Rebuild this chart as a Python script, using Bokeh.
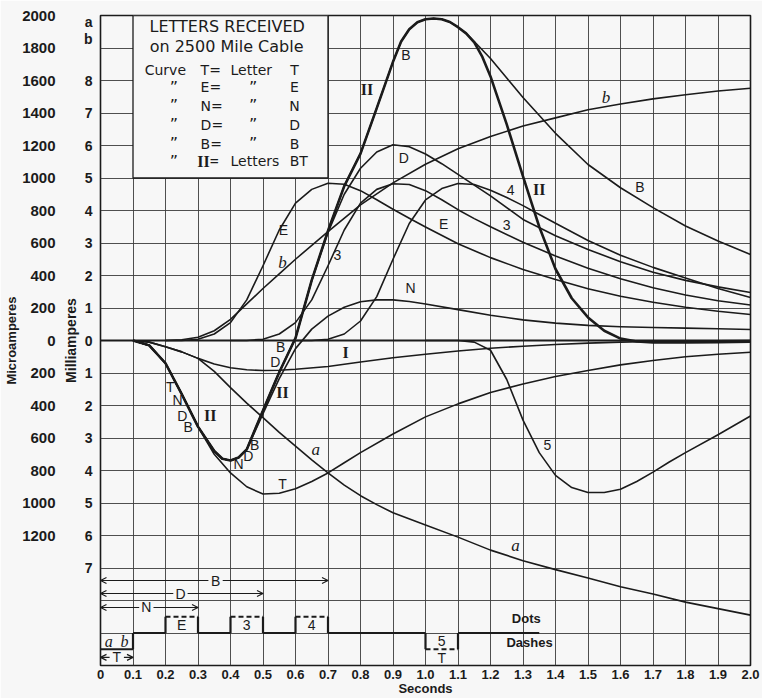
from bokeh.plotting import figure
from bokeh.models import (FixedTicker, LinearAxis, Range1d, Span, Arrow, OpenHead,
                          ColumnDataSource, CustomJSTickFormatter)
from bokeh.core.properties import value
from bokeh.embed import file_html
from bokeh.resources import INLINE

BG = "#f7f7f7"
INK = "#1b1b1b"
GRIDC = "#3c3c3c"
SANS = "Liberation Sans"
SERIF = "Liberation Serif"

# ---------------- axes / ticks ----------------
x_ticks = [0.0, 0.1, 0.2, 0.3, 0.4, 0.5, 0.6, 0.7, 0.8, 0.9, 1.0,
           1.1, 1.2, 1.3, 1.4, 1.5, 1.6, 1.7, 1.8, 1.9, 2.0]
x_tick_labels = ["0", "0.1", "0.2", "0.3", "0.4", "0.5", "0.6", "0.7", "0.8", "0.9", "1.0",
                 "1.1", "1.2", "1.3", "1.4", "1.5", "1.6", "1.7", "1.8", "1.9", "2.0"]
grid_y = [-2000, -1800, -1600, -1400, -1200, -1000, -800, -600, -400, -200, 0,
          200, 400, 600, 800, 1000, 1200, 1400, 1600, 1800, 2000]
ua_ticks = [2000, 1800, 1600, 1400, 1200, 1000, 800, 600, 400, 200, 0,
            -200, -400, -600, -800, -1000, -1200]
ua_labels = ["2000", "1800", "1600", "1400", "1200", "1000", "800", "600", "400", "200", "0",
             "200", "400", "600", "800", "1000", "1200"]
ma_ticks = [1960, 1857, 1600, 1400, 1200, 1000, 800, 600, 400, 200, 0,
            -200, -400, -600, -800, -1000, -1200, -1400]
ma_labels = ["a", "b", "8", "7", "6", "5", "4", "3", "2", "1", "0",
             "1", "2", "3", "4", "5", "6", "7"]

# ---------------- curves (seconds, microamperes) ----------------
a_x = [0.1, 0.15, 0.2, 0.25, 0.3, 0.35, 0.4, 0.45, 0.5, 0.55, 0.6, 0.65, 0.7, 0.75, 0.8, 0.85,
       0.9, 1.0, 1.1, 1.2, 1.3, 1.4, 1.5, 1.6, 1.7, 1.8, 1.9, 2.0]
a_y = [0, -10, -38, -70, -110, -190, -290, -385, -475, -565, -650, -735, -815, -890, -955, -1010,
       -1060, -1135, -1210, -1290, -1355, -1410, -1462, -1515, -1560, -1610, -1650, -1690]

b_x = [0.2, 0.25, 0.3, 0.35, 0.4, 0.45, 0.5, 0.55, 0.6, 0.7, 0.8, 0.9, 1.0, 1.1, 1.2, 1.3,
       1.4, 1.5, 1.6, 1.7, 1.8, 1.9, 2.0]
b_y = [0, 5, 20, 60, 130, 225, 320, 410, 500, 670, 835, 970, 1085, 1180, 1255, 1320,
       1370, 1420, 1455, 1487, 1512, 1535, 1552]

I_x = [0.1, 0.15, 0.2, 0.25, 0.3, 0.35, 0.4, 0.45, 0.5, 0.55, 0.6, 0.7, 0.8, 0.9, 1.0, 1.1,
       1.2, 1.3, 1.4, 1.5, 1.6, 1.7, 1.8, 1.9, 2.0]
I_y = [0, -10, -38, -70, -110, -145, -168, -180, -185, -183, -177, -160, -132, -106, -85, -65,
       -48, -35, -25, -16, -10, -6, -4, -2, 0]

T_x = [0.1, 0.15, 0.2, 0.25, 0.3, 0.35, 0.4, 0.45, 0.5, 0.55, 0.6, 0.65, 0.7, 0.75, 0.8, 0.9,
       1.0, 1.1, 1.2, 1.3, 1.4, 1.5, 1.6, 1.7, 1.8, 1.9, 2.0]
T_y = [0, -30, -140, -330, -532, -700, -815, -900, -945, -940, -912, -868, -815, -752, -690, -575,
       -470, -390, -320, -268, -222, -185, -150, -123, -100, -85, -72]

E_x = [0.2, 0.25, 0.3, 0.35, 0.4, 0.45, 0.5, 0.55, 0.6, 0.65, 0.7, 0.75, 0.8, 0.85, 0.9, 0.95,
       1.0, 1.1, 1.2, 1.3, 1.4, 1.5, 1.6, 1.7, 1.8, 1.9, 2.0]
E_y = [0, 0, 8, 40, 110, 250, 460, 680, 845, 930, 968, 962, 922, 866, 808, 752,
       698, 595, 510, 437, 375, 318, 272, 235, 205, 180, 160]

c3_x = [0.4, 0.45, 0.5, 0.55, 0.6, 0.65, 0.7, 0.75, 0.8, 0.85, 0.9, 0.95, 1.0, 1.05, 1.1, 1.15,
        1.2, 1.3, 1.4, 1.5, 1.6, 1.7, 1.8, 1.9, 2.0]
c3_y = [0, 0, 8, 40, 110, 250, 460, 680, 845, 930, 965, 960, 922, 866, 805, 750,
        700, 605, 520, 445, 380, 325, 280, 245, 218]

c4_x = [0.6, 0.65, 0.7, 0.75, 0.8, 0.85, 0.9, 0.95, 1.0, 1.05, 1.1, 1.15, 1.2, 1.25, 1.3, 1.35,
        1.4, 1.5, 1.6, 1.7, 1.8, 1.9, 2.0]
c4_y = [0, 0, 8, 40, 120, 270, 500, 720, 865, 935, 966, 960, 925, 880, 830, 775,
        722, 615, 525, 450, 385, 320, 265]

c5_x = [1.0, 1.1, 1.15, 1.2, 1.25, 1.3, 1.35, 1.4, 1.45, 1.5, 1.55, 1.6, 1.65, 1.7, 1.75, 1.8,
        1.9, 2.0]
c5_y = [0, 0, -10, -60, -240, -490, -690, -830, -905, -935, -935, -915, -868, -810, -748, -690,
        -580, -465]

N_x = [0.1, 0.15, 0.2, 0.25, 0.3, 0.35, 0.375, 0.4, 0.425, 0.45, 0.5, 0.55, 0.6, 0.65, 0.7, 0.75,
       0.8, 0.85, 0.9, 0.95, 1.0, 1.1, 1.2, 1.3, 1.4, 1.5, 1.6, 1.7, 1.8, 1.9, 2.0]
N_y = [0, -30, -140, -330, -530, -680, -728, -738, -720, -672, -450, -235, -50, 70, 150, 205,
       238, 250, 250, 240, 225, 190, 155, 127, 107, 93, 85, 80, 76, 72, 68]

D_x = [0.1, 0.15, 0.2, 0.25, 0.3, 0.35, 0.375, 0.4, 0.425, 0.45, 0.5, 0.55, 0.6, 0.65, 0.7, 0.75,
       0.8, 0.85, 0.9, 0.95, 1.0, 1.05, 1.1, 1.2, 1.3, 1.4, 1.5, 1.6, 1.7, 1.8, 1.9, 2.0]
D_y = [0, -30, -140, -330, -530, -680, -728, -738, -720, -670, -430, -195, 15, 370, 665, 900,
       1060, 1160, 1205, 1192, 1148, 1088, 1022, 890, 745, 645, 560, 485, 420, 370, 330, 295]

B_x = [0.1, 0.15, 0.2, 0.25, 0.3, 0.35, 0.375, 0.4, 0.425, 0.45, 0.5, 0.55, 0.6, 0.65, 0.7, 0.75,
       0.8, 0.85, 0.9, 0.925, 0.95, 0.975, 1.0, 1.025, 1.05, 1.075, 1.1, 1.125, 1.15, 1.2, 1.25,
       1.3, 1.4, 1.5, 1.6, 1.7, 1.8, 1.9, 2.0]
B_y = [0, -30, -140, -330, -530, -680, -728, -738, -720, -670, -430, -195, 15, 372, 675, 950,
       1150, 1430, 1715, 1840, 1915, 1958, 1977, 1982, 1977, 1960, 1928, 1890, 1840, 1735, 1615,
       1495, 1275, 1083, 940, 818, 705, 612, 529]

II_x = [0.1, 0.15, 0.2, 0.25, 0.3, 0.35, 0.375, 0.4, 0.425, 0.45, 0.5, 0.55, 0.6, 0.65, 0.7, 0.75,
        0.8, 0.85, 0.9, 0.925, 0.95, 0.975, 1.0, 1.025, 1.05, 1.075, 1.1, 1.125, 1.15, 1.175, 1.2,
        1.25, 1.3, 1.35, 1.4, 1.45, 1.5, 1.55, 1.6, 1.65, 1.7, 1.8, 1.9, 2.0]
II_y = [0, -30, -140, -330, -530, -680, -728, -738, -720, -670, -430, -195, 15, 372, 675, 950,
        1150, 1430, 1715, 1840, 1915, 1958, 1977, 1982, 1977, 1960, 1928, 1890, 1835, 1745, 1625,
        1330, 1010, 700, 440, 260, 142, 60, 12, -6, -12, -12, -10, -8]

# ---------------- curve labels ----------------
sans_lab_text = ["E", "3", "D", "B", "E", "3", "4", "B", "N", "B", "D", "5", "T",
                 "T", "N", "D", "B", "N", "D", "B"]
sans_lab_x = [0.563, 0.729, 0.933, 0.94, 1.056, 1.25, 1.262, 1.66, 0.954, 0.554, 0.538, 1.375, 0.56,
              0.215, 0.237, 0.252, 0.27, 0.425, 0.455, 0.474]
sans_lab_y = [677, 529, 1126, 1754, 714, 708, 929, 942, 326, -43, -135, -646, -886,
              -289, -369, -462, -535, -763, -708, -640]
roman_lab_text = ["II", "II", "II", "II", "I"]
roman_lab_x = [0.82, 1.35, 0.338, 0.56, 0.754]
roman_lab_y = [1545, 930, -462, -320, -74]
ital_lab_text = ["b", "b", "a", "a"]
ital_lab_x = [0.56, 1.555, 0.662, 1.277]
ital_lab_y = [480, 1495, -671, -1262]

# ---------------- legend box ----------------
legend_box = dict(left=[0.1], right=[0.7], bottom=[1000], top=[2000])
legend_title = ["LETTERS RECEIVED", "on 2500 Mile Cable"]
legend_title_y = [1932, 1809]
legend_rows_y = [1662, 1557, 1446, 1329, 1212, 1102]
legend_col1 = ["Curve", "\u201d", "\u201d", "\u201d", "\u201d", "\u201d"]
legend_col2 = ["T=", "E=", "N=", "D=", "B=", "II="]
legend_col3 = ["Letter", "\u201d", "\u201d", "\u201d", "\u201d", "Letters"]
legend_col4 = ["T", "E", "N", "D", "B", "BT"]

# ---------------- telegraph signal diagram ----------------
sig_neutral = -1800
sig_start = [0.0, 0.2, 0.4, 0.6, 1.0]
sig_stop = [0.1, 0.3, 0.5, 0.7, 1.1]
sig_level = [-1900, -1700, -1700, -1700, -1900]
sig_dashed = [False, True, True, True, True]
sig_end = 1.35
box_lab_text = ["E", "3", "4", "5", "T"]
box_lab_x = [0.25, 0.45, 0.65, 1.05, 1.05]
box_lab_y = [-1752, -1752, -1752, -1852, -1955]
ab_text = ["a", "b"]
ab_x = [0.025, 0.074]
ab_y = [-1850, -1850]
span_name = ["T", "N", "D", "B"]
span_end = [0.1, 0.3, 0.5, 0.7]
span_y = [-1950, -1643, -1557, -1477]
span_lab_x = [0.05, 0.141, 0.246, 0.354]
key_text = ["Dots", "Dashes"]
key_x = [1.31, 1.32]
key_y = [-1710, -1858]

# ---------------- figure ----------------
p = figure(width=762, height=698, x_range=Range1d(0, 2.0), y_range=Range1d(-2000, 2000),
           output_backend="svg", toolbar_location=None,
           x_axis_location=None, y_axis_location=None,
           min_border_left=100, min_border_right=12, min_border_top=15, min_border_bottom=33,
           background_fill_color=BG, border_fill_color=BG,
           outline_line_color=INK, outline_line_width=1.6)

p.xgrid.ticker = FixedTicker(ticks=x_ticks)
p.ygrid.ticker = FixedTicker(ticks=grid_y)
p.grid.grid_line_color = GRIDC
p.grid.grid_line_width = 1
p.grid.grid_line_alpha = 0.9


def fmt(ticks, labels):
    return CustomJSTickFormatter(args=dict(tv=ticks, tl=labels), code="""
        const i = tv.findIndex(t => Math.abs(t - tick) < 1e-6);
        return i >= 0 ? tl[i] : "";
    """)


def style_axis(ax):
    ax.axis_line_color = None
    ax.major_tick_line_color = None
    ax.minor_tick_line_color = None
    ax.major_tick_in = 0
    ax.major_tick_out = 0
    ax.major_label_text_font = SANS
    ax.major_label_text_font_style = "bold"
    ax.major_label_text_color = INK
    ax.axis_label_text_font = SANS
    ax.axis_label_text_font_style = "bold"
    ax.axis_label_text_color = INK


xaxis = LinearAxis(ticker=FixedTicker(ticks=x_ticks), formatter=fmt(x_ticks, x_tick_labels),
                   axis_label="Seconds")
style_axis(xaxis)
xaxis.major_label_text_font_size = "13px"
xaxis.axis_label_text_font_size = "13px"
xaxis.major_label_standoff = 4
xaxis.axis_label_standoff = -1
p.add_layout(xaxis, "below")

ma_axis = LinearAxis(ticker=FixedTicker(ticks=ma_ticks), formatter=fmt(ma_ticks, ma_labels),
                     axis_label="Milliamperes")
style_axis(ma_axis)
ma_axis.major_label_text_font_size = "14px"
ma_axis.axis_label_text_font_size = "14px"
ma_axis.major_label_standoff = 8
ma_axis.axis_label_standoff = 2
p.add_layout(ma_axis, "left")

ua_axis = LinearAxis(ticker=FixedTicker(ticks=ua_ticks), formatter=fmt(ua_ticks, ua_labels),
                     axis_label="Microamperes")
style_axis(ua_axis)
ua_axis.major_label_text_font_size = "15px"
ua_axis.axis_label_text_font_size = "13px"
ua_axis.major_label_standoff = 4
ua_axis.axis_label_standoff = 0
p.add_layout(ua_axis, "left")

# zero axis line
p.add_layout(Span(location=0, dimension="width", line_color=INK, line_width=1.8))

# legend box
p.quad(fill_color=BG, line_color=INK, line_width=1.3, **legend_box)

# curves
thin = [(a_x, a_y), (b_x, b_y), (I_x, I_y), (T_x, T_y), (E_x, E_y), (c3_x, c3_y),
        (c4_x, c4_y), (c5_x, c5_y), (N_x, N_y), (D_x, D_y), (B_x, B_y)]
for xs, ys in thin:
    p.line(xs, ys, line_color=INK, line_width=1.6, line_join="round")
p.line(II_x, II_y, line_color=INK, line_width=2.6, line_join="round")


def texts(xs, ys, tt, font, size, style="normal", align="center"):
    src = ColumnDataSource(dict(x=xs, y=ys, t=tt))
    p.text(x="x", y="y", text="t", source=src, text_font=value(font),
           text_font_size=value(size), text_font_style=style, text_align=align,
           text_baseline="middle", text_color=INK)


texts(sans_lab_x, sans_lab_y, sans_lab_text, SANS, "14px")
texts(roman_lab_x, roman_lab_y, roman_lab_text, SERIF, "16px", "bold")
texts(ital_lab_x, ital_lab_y, ital_lab_text, SERIF, "17px", "italic")

# legend texts
texts([0.39, 0.388], legend_title_y, legend_title, "DejaVu Sans", "16px")
texts([0.136], legend_rows_y[:1], legend_col1[:1], "DejaVu Sans", "14px", align="left")
texts([0.226] * 5, legend_rows_y[1:], legend_col1[1:], "DejaVu Sans", "16px")
texts([0.308] * 5, legend_rows_y[:5], legend_col2[:5], "DejaVu Sans", "14px", align="left")
texts([0.298], legend_rows_y[5:], legend_col2[5:], SERIF, "16px", "bold", align="left")
texts([0.40], legend_rows_y[:1], legend_col3[:1], "DejaVu Sans", "14px", align="left")
texts([0.47] * 4, legend_rows_y[1:5], legend_col3[1:5], "DejaVu Sans", "16px")
texts([0.40], legend_rows_y[5:], legend_col3[5:], "DejaVu Sans", "14px", align="left")
texts([0.597] * 5 + [0.61], legend_rows_y, legend_col4, "DejaVu Sans", "14px")

# signal diagram: solid and dashed pieces built from the element lists
solid_xs, solid_ys, dash_xs, dash_ys = [], [], [], []
prev = None
for s0, s1, lv, dsh in zip(sig_start, sig_stop, sig_level, sig_dashed):
    if prev is not None:
        solid_xs.append([prev, s0]); solid_ys.append([sig_neutral, sig_neutral])
    if s0 > 0:
        solid_xs.append([s0, s0]); solid_ys.append([sig_neutral, lv])
    if dsh:
        dash_xs.append([s0, s1]); dash_ys.append([lv, lv])
    else:
        solid_xs.append([s0, s1]); solid_ys.append([lv, lv])
    solid_xs.append([s1, s1]); solid_ys.append([lv, sig_neutral])
    prev = s1
solid_xs.append([prev, sig_end]); solid_ys.append([sig_neutral, sig_neutral])
p.multi_line(solid_xs, solid_ys, line_color=INK, line_width=2.2)
p.multi_line(dash_xs, dash_ys, line_color=INK, line_width=2.0, line_dash="5 3")

texts(box_lab_x, box_lab_y, box_lab_text, SANS, "14px")
texts(ab_x, ab_y, ab_text, SERIF, "16px", "italic")
texts(key_x, key_y, key_text, SANS, "13px", "bold")

# span arrows with centred labels
gap = 0.022
for nm, e, yy, lx in zip(span_name, span_end, span_y, span_lab_x):
    p.add_layout(Arrow(end=OpenHead(size=6, line_color=INK, line_width=1.2), x_start=lx - gap,
                       y_start=yy, x_end=0.0, y_end=yy, line_color=INK, line_width=1.1))
    p.add_layout(Arrow(end=OpenHead(size=6, line_color=INK, line_width=1.2), x_start=lx + gap,
                       y_start=yy, x_end=e, y_end=yy, line_color=INK, line_width=1.1))
texts(span_lab_x, span_y, span_name, SANS, "14px")

open("out.html", "w").write(file_html(p, INLINE))
